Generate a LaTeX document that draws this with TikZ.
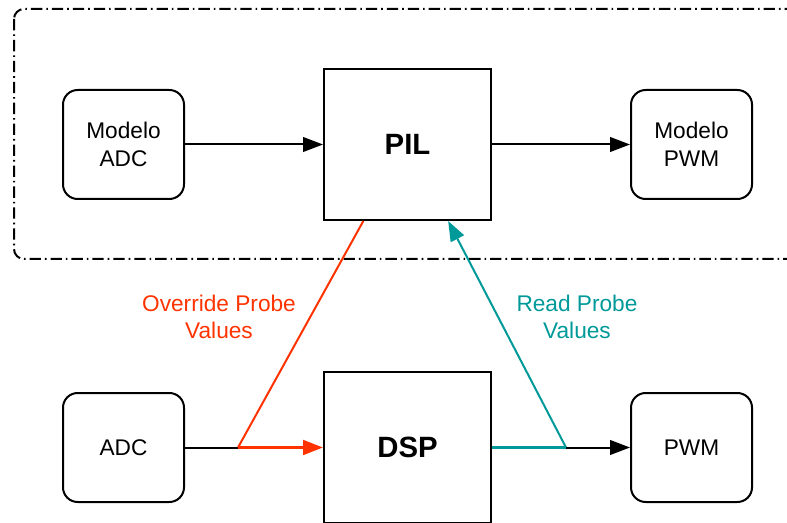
\documentclass[tikz,border=0pt]{standalone}
\usepackage{fontspec}
\setmainfont{Liberation Sans}
\usetikzlibrary{arrows.meta}
\definecolor{probered}{RGB}{255,51,0}
\definecolor{probeteal}{RGB}{0,153,153}

\begin{document}
\begin{tikzpicture}[x=0.75pt,y=0.75pt,yscale=-1,xscale=1,
  model/.style={draw,line width=1.5pt,rounded corners=11pt,minimum width=90.75pt,minimum height=81.75pt,align=center,inner sep=0pt,font=\fontsize{17}{20.6}\selectfont},
  core/.style={draw,line width=1.5pt,minimum width=125.25pt,minimum height=113.25pt,inner sep=0pt,font=\fontsize{22}{26}\selectfont\bfseries},
  flow/.style={line width=1.5pt,-{Triangle[length=15pt,width=11pt]}},
  probelabel/.style={align=center,font=\fontsize{17}{20.6}\selectfont}]
\useasboundingbox (0,0) rectangle (787,523);
\clip (0,0) rectangle (787,523);

%Shape: Group frame (PIL side)
\draw [line width=1.5pt,rounded corners=7.5pt,dash pattern=on 8.5pt off 3pt on 1.2pt off 3pt] (14,9) rectangle (805,259) ;

%Shape: Rounded Rect (model blocks)
\node [model] (madc) at (123.5,144.5) {Modelo\\ADC};
\node [model] (mpwm) at (691.5,144.5) {Modelo\\PWM};
\node [model] (adc) at (123.5,447.5) {ADC};
\node [model] (pwm) at (691.5,447.5) {PWM};

%Shape: Rectangle (PIL and DSP)
\node [core] (pil) at (407.5,144.5) {PIL};
\node [core] (dsp) at (407.5,447.5) {DSP};

%Straight Lines
\draw [flow] (madc) -- (pil) ;
\draw [flow] (pil) -- (mpwm) ;

\coordinate (jred) at (238,447.5);
\coordinate (jteal) at (566,447.5);

\draw [line width=1.5pt] (adc) -- (jred) ;
\draw [flow,line width=2.2pt,draw=probered,fill=probered] (jred) -- (dsp) ;
\draw [line width=1.5pt,probered] (jred) -- (pil.240) ;

\draw [line width=2.2pt,probeteal] (dsp) -- (jteal) ;
\draw [flow,draw=probeteal,fill=probeteal] (jteal) -- (pil.298.5) ;
\draw [flow] (jteal) -- (pwm) ;

%Text labels
\node [probelabel,text=probered] (lover) at (219,317) {Override Probe\\Values};
\node [probelabel,text=probeteal] (lread) at (577,317) {Read Probe\\Values};

\end{tikzpicture}
\end{document}
